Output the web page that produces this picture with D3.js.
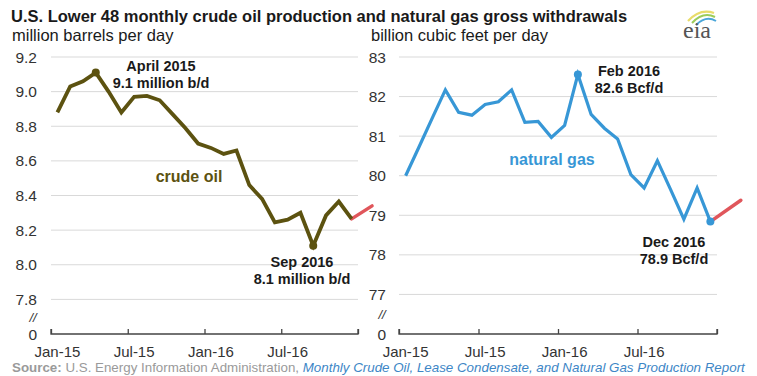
<!DOCTYPE html>
<html>
<head>
<meta charset="utf-8">
<script src="https://cdn.jsdelivr.net/npm/d3@7/dist/d3.min.js"></script>
<style>
  html, body { margin: 0; padding: 0; background: #fff; }
  svg { display: block; font-family: "Liberation Sans", Arial, sans-serif; }
</style>
</head>
<body>
<svg id="chart" width="757" height="376"></svg>
<script>
// ---------------- data ----------------
const months = ["Jan-15","Feb-15","Mar-15","Apr-15","May-15","Jun-15","Jul-15","Aug-15","Sep-15","Oct-15","Nov-15","Dec-15",
                "Jan-16","Feb-16","Mar-16","Apr-16","May-16","Jun-16","Jul-16","Aug-16","Sep-16","Oct-16","Nov-16","Dec-16"];
const crudeOil = [8.88, 9.03, 9.06, 9.11, 9.00, 8.88, 8.97, 8.975, 8.95, 8.87, 8.79, 8.70,
                  8.675, 8.64, 8.66, 8.46, 8.38, 8.245, 8.26, 8.30, 8.11, 8.285, 8.365, 8.265];
const naturalGas = [80.0, 80.72, 81.45, 82.17, 81.6, 81.53, 81.8, 81.87, 82.17, 81.35, 81.37, 80.97,
                    81.27, 82.56, 81.55, 81.2, 80.93, 80.03, 79.69, 80.38, 79.65, 78.9, 79.69, 78.84];
// estimate segment: month position (months since Jan-15) and value
const crudeEstimateMonth = [23.5, 25.1];
const crudeEstimate = [8.265, 8.34];
const gasEstimateMonth = [23.5, 25.8];
const gasEstimate = [78.84, 79.38];
const xTickLabels = ["Jan-15", "Jul-15", "Jan-16", "Jul-16"];
const xTickMonths = [0, 6, 12, 18, 24];
const crudeTicks = [7.8, 8.0, 8.2, 8.4, 8.6, 8.8, 9.0, 9.2];
const gasTicks = [77, 78, 79, 80, 81, 82, 83];
const crudeNotes = [
  { month: "Apr-15", lines: ["April 2015", "9.1 million b/d"] },
  { month: "Sep-16", lines: ["Sep 2016", "8.1 million b/d"] }
];
const gasNotes = [
  { month: "Feb-16", lines: ["Feb 2016", "82.6 Bcf/d"] },
  { month: "Dec-16", lines: ["Dec 2016", "78.9 Bcf/d"] }
];

const svg = d3.select("#chart");

// ---------------- header ----------------
svg.append("text").attr("x", 11).attr("y", 22)
  .attr("font-size", 16.5).attr("font-weight", "bold").attr("fill", "#1a1a1a")
  .text("U.S. Lower 48 monthly crude oil production and natural gas gross withdrawals");

// eia logo
const logo = svg.append("g");
logo.append("path").attr("d", "M688,21 Q700,8 714,13").attr("fill", "none").attr("stroke", "#e9dc6a").attr("stroke-width", 2.2);
logo.append("path").attr("d", "M692,23 Q703,11 715,17").attr("fill", "none").attr("stroke", "#9ccc5a").attr("stroke-width", 2);
logo.append("path").attr("d", "M696,25 Q706,15 716,21").attr("fill", "none").attr("stroke", "#4aa6d9").attr("stroke-width", 2);
logo.append("text").attr("x", 697).attr("y", 38).attr("text-anchor", "middle")
  .attr("font-family", "'Liberation Serif', 'DejaVu Serif', serif").attr("font-size", 24)
  .attr("fill", "#555").text("eia");

// ---------------- panel builder ----------------
function panel(cfg) {
  const g = svg.append("g");
  const x = d3.scaleLinear().domain([0, 24]).range(cfg.xRange);
  const y = d3.scaleLinear().domain(cfg.yDomain).range([334, 57]);

  // unit label
  g.append("text").attr("x", cfg.unitX).attr("y", 41).attr("font-size", 16.5).attr("fill", "#1a1a1a").text(cfg.unit);

  // gridlines
  g.selectAll("line.grid").data(cfg.ticks).enter().append("line")
    .attr("x1", cfg.xRange[0]).attr("x2", cfg.xRange[1])
    .attr("y1", d => y(d)).attr("y2", d => y(d))
    .attr("stroke", "#d9d9d9").attr("stroke-width", 1);

  // y labels
  g.selectAll("text.yl").data(cfg.ticks).enter().append("text")
    .attr("x", cfg.labelX).attr("y", d => y(d) + 5.5).attr("text-anchor", "end")
    .attr("font-size", 15.5).attr("fill", "#333").text(d => cfg.fmt(d));
  g.append("text").attr("x", cfg.labelX).attr("y", y(cfg.yDomain[0]) + 5.5).attr("text-anchor", "end")
    .attr("font-size", 15.5).attr("fill", "#333").text("0");
  g.append("text").attr("x", cfg.labelX - 4).attr("y", (y(cfg.ticks[0]) + y(cfg.yDomain[0])) / 2 + 5)
    .attr("text-anchor", "middle").attr("font-size", 13).attr("font-style", "italic").attr("fill", "#333").text("//");

  // x axis
  const axis = d3.axisTop(x).tickValues(xTickMonths).tickSize(5).tickFormat("");
  const ag = g.append("g").attr("transform", `translate(0,${y(cfg.yDomain[0])})`).call(axis);
  ag.select(".domain").attr("stroke", "#444").attr("stroke-width", 1.3).attr("d", `M${cfg.xRange[0]},-5V0H${cfg.xRange[1]}V-5`);
  ag.selectAll(".tick line").attr("stroke", "#444").attr("stroke-width", 1.3);
  g.selectAll("text.xl").data(xTickLabels).enter().append("text")
    .attr("x", (d, i) => x(xTickMonths[i] + 0.5)).attr("y", 357).attr("text-anchor", "middle")
    .attr("font-size", 15).attr("fill", "#333").text(d => d);

  // estimate line
  const est = cfg.estMonth.map((m, i) => [m, cfg.est[i]]);
  g.append("path").datum(est)
    .attr("d", d3.line().x(d => x(d[0])).y(d => y(d[1])))
    .attr("fill", "none").attr("stroke", "#e0565b").attr("stroke-width", 3.5).attr("stroke-linecap", "round");

  // main line
  const pts = cfg.values.map((v, i) => [i + 0.5, v]);
  g.append("path").datum(pts)
    .attr("d", d3.line().x(d => x(d[0])).y(d => y(d[1])))
    .attr("fill", "none").attr("stroke", cfg.color).attr("stroke-width", cfg.width)
    .attr("stroke-linejoin", "miter");

  // markers + notes
  cfg.notes.forEach((n, k) => {
    const i = months.indexOf(n.month);
    g.append("circle").attr("cx", x(i + 0.5)).attr("cy", y(cfg.values[i])).attr("r", 4).attr("fill", cfg.color);
    const t = g.append("text").attr("text-anchor", "middle").attr("font-size", 14.5)
      .attr("font-weight", "bold").attr("fill", "#1a1a1a");
    n.lines.forEach((l, j) => {
      t.append("tspan").attr("x", cfg.noteX[k]).attr("y", cfg.noteY[k] + j * 16.5).text(l);
    });
  });

  // series label
  g.append("text").attr("x", cfg.seriesLabel[0]).attr("y", cfg.seriesLabel[1]).attr("text-anchor", "middle")
    .attr("font-size", 16).attr("font-weight", "bold").attr("fill", cfg.color).text(cfg.name);
}

panel({
  xRange: [51, 358], yDomain: [7.6, 9.2], ticks: crudeTicks, fmt: d3.format(".1f"),
  unit: "million barrels per day", unitX: 12, labelX: 37,
  values: crudeOil, color: "#5c5210", width: 3.8,
  estMonth: crudeEstimateMonth, est: crudeEstimate,
  notes: crudeNotes, noteX: [161, 302], noteY: [71, 267],
  name: "crude oil", seriesLabel: [189, 182]
});

panel({
  xRange: [399, 717], yDomain: [76, 83], ticks: gasTicks, fmt: d3.format("d"),
  unit: "billion cubic feet per day", unitX: 371, labelX: 386,
  values: naturalGas, color: "#3797d6", width: 3.2,
  estMonth: gasEstimateMonth, est: gasEstimate,
  notes: gasNotes, noteX: [629, 674], noteY: [76, 247],
  name: "natural gas", seriesLabel: [552, 165]
});

// ---------------- source ----------------
const src = svg.append("text").attr("x", 12).attr("y", 372).attr("font-size", 13.35);
src.append("tspan").attr("font-weight", "bold").attr("fill", "#9a9a9a").text("Source: ");
src.append("tspan").attr("fill", "#9a9a9a").text("U.S. Energy Information Administration, ");
src.append("tspan").attr("font-style", "italic").attr("fill", "#3d86c6")
  .text("Monthly Crude Oil, Lease Condensate, and Natural Gas Production Report");
</script>
</body>
</html>
